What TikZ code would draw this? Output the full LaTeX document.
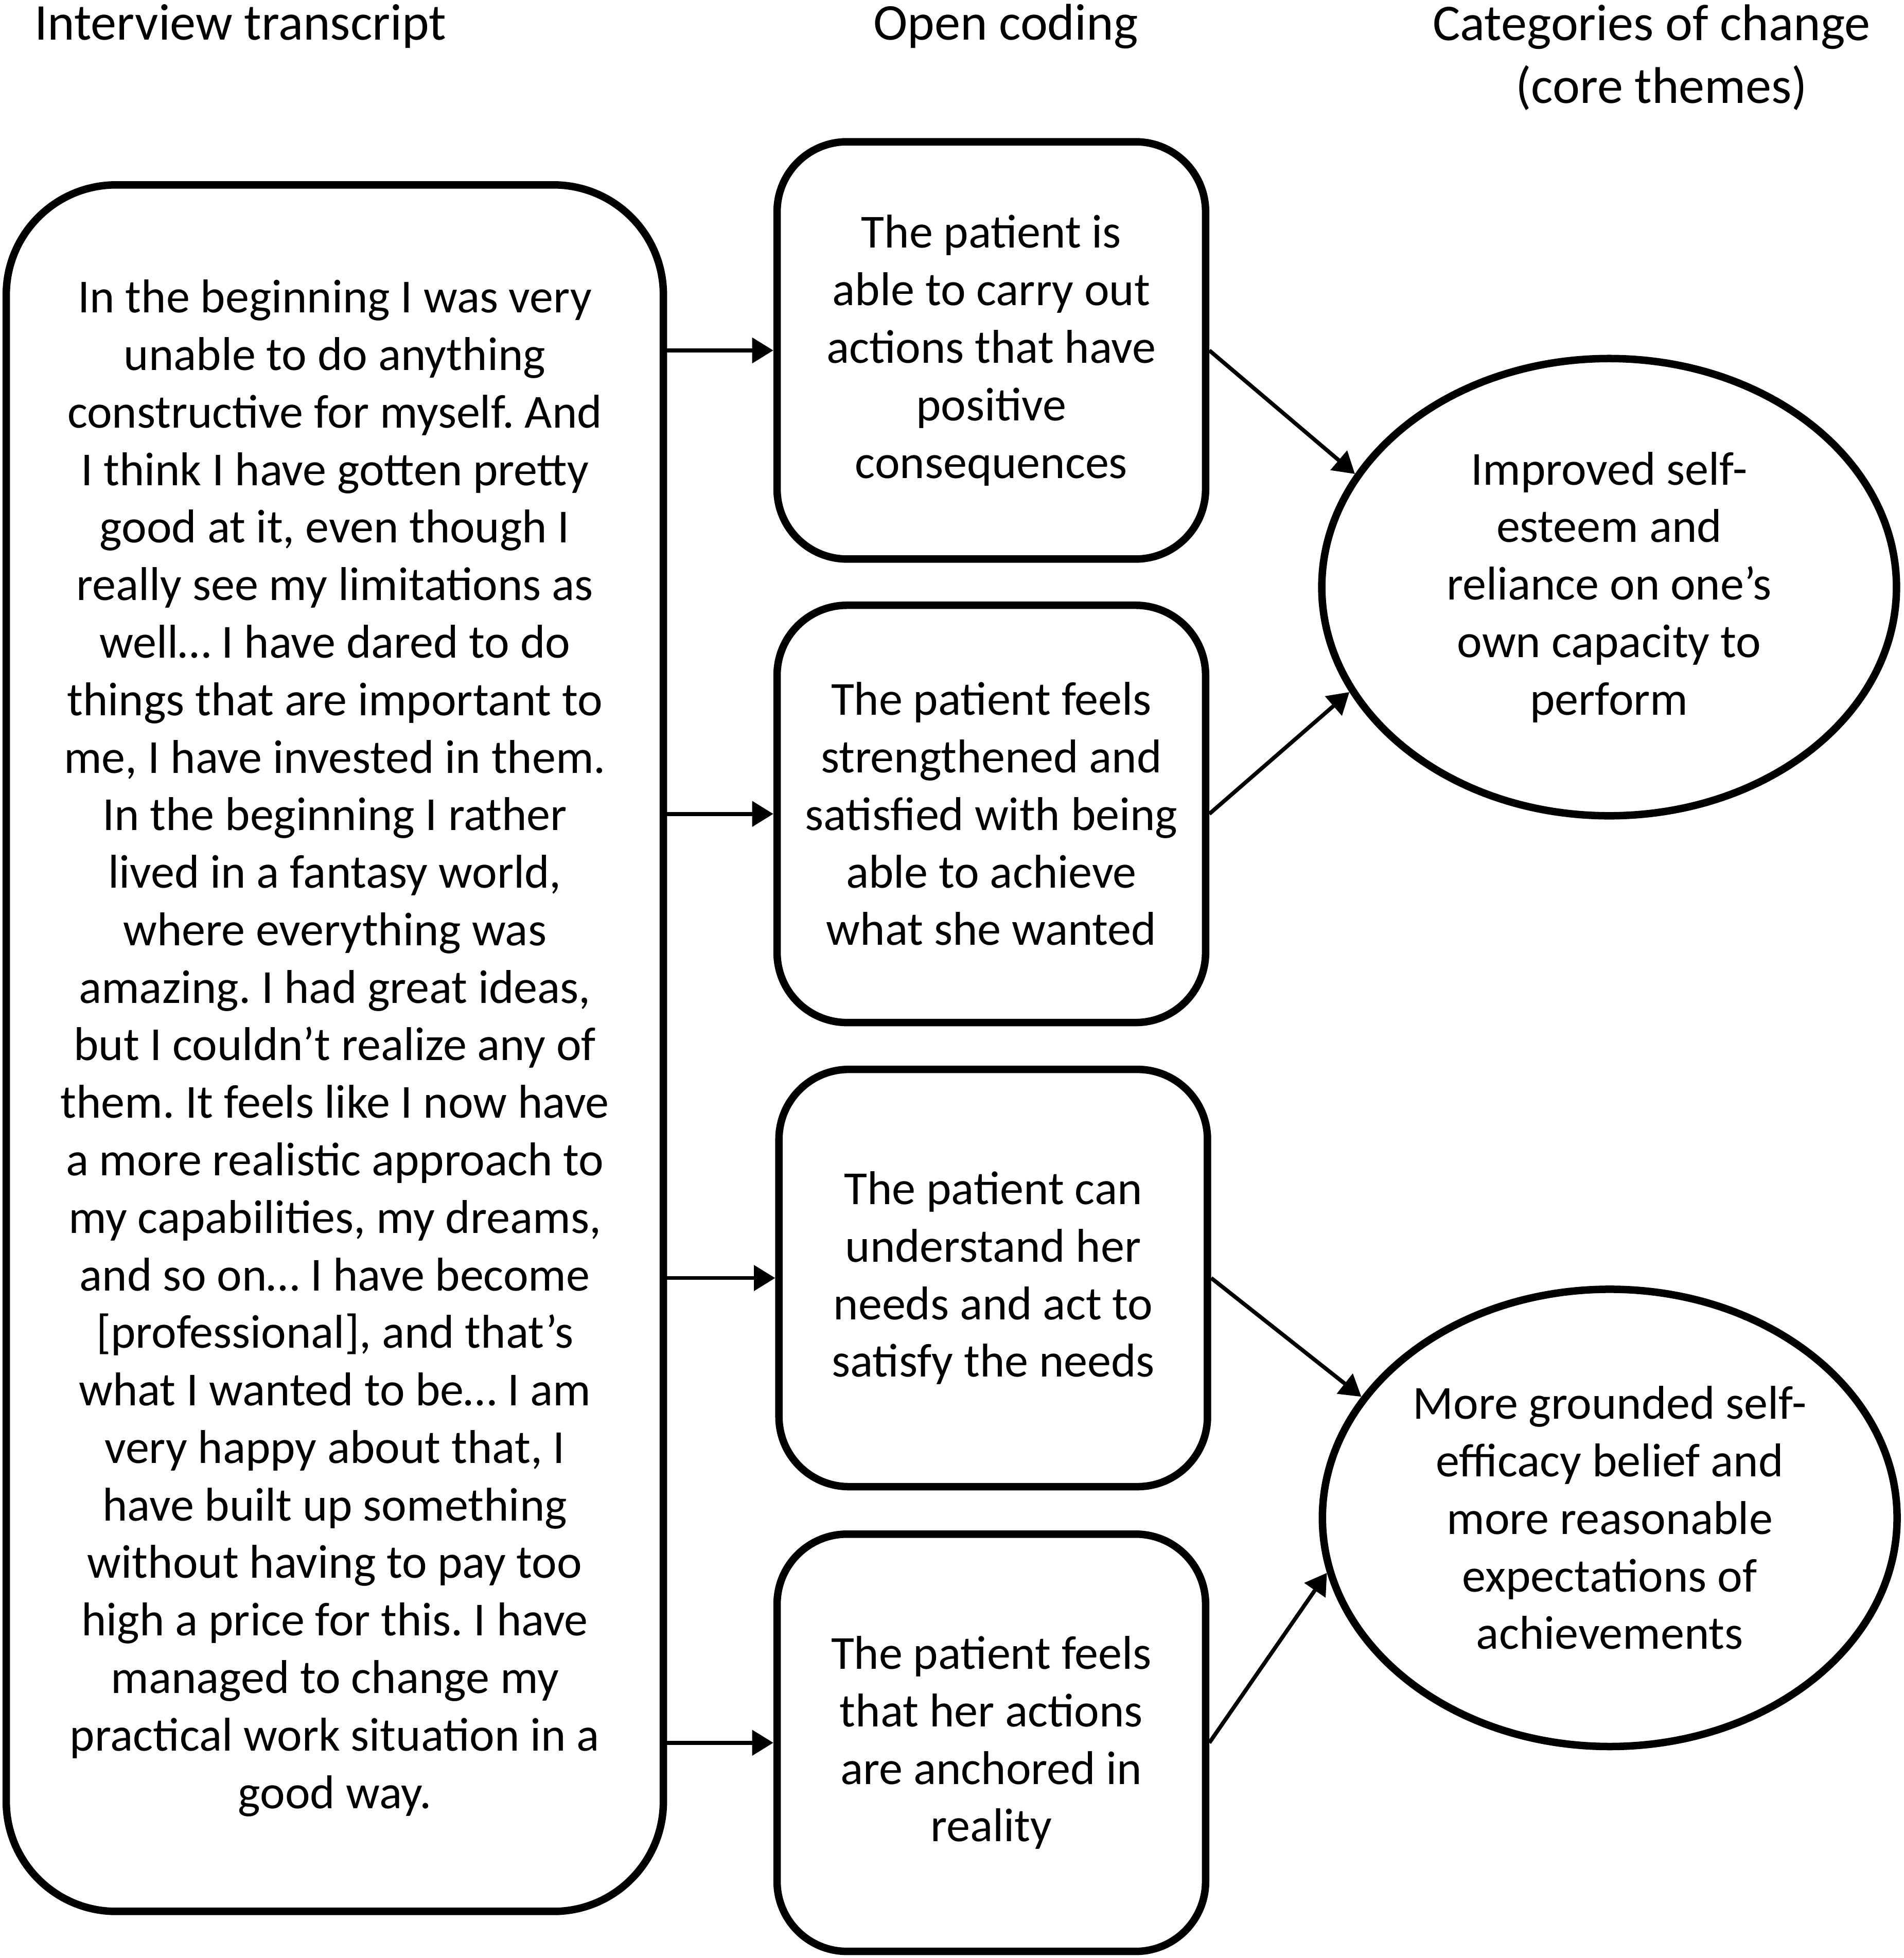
\documentclass[tikz,border=0pt]{standalone}
\usepackage{fontspec}
\setmainfont{Carlito}
\usetikzlibrary{arrows.meta,shapes.geometric}
\frenchspacing
\tikzset{
  txt/.style={font=\fontsize{10.8}{13.1}\selectfont,align=center,inner sep=0pt},
  head/.style={font=\fontsize{11.75}{14.2}\selectfont,align=center,inner sep=0pt},
  codebox/.style={txt,draw,line width=1.7pt,rounded corners=0.56cm,minimum width=3.43cm,minimum height=3.34cm},
  themebox/.style={txt,draw,line width=1.7pt,ellipse,minimum width=4.6cm,minimum height=3.66cm},
  arr/.style={line width=0.9pt,-{Triangle[length=0.17cm,width=0.2cm]}}
}
\begin{document}
\begin{tikzpicture}
    \useasboundingbox(0,0)rectangle(15.24,-15.673);
    \node[head](h1)at(1.925,-0.21){Interview transcript};
    \node[head](h2)at(8.05,-0.21){Open coding};
    \node[head](h3)at(13.22,-0.46){Categories of change\\\hspace*{0.16cm}(core themes)};
    \node[txt,draw,line width=1.7pt,rounded corners=0.88cm,minimum width=5.26cm,minimum height=13.82cm](tr)at(2.68,-8.39){In the beginning I was very\\unable to do anything\\constructive for myself. And\\I think I have gotten pretty\\good at it, even though I\\really see my limitations as\\well… I have dared to do\\things that are important to\\me, I have invested in them.\\In the beginning I rather\\lived in a fantasy world,\\where everything was\\amazing. I had great ideas,\\but I couldn’t realize any of\\them. It feels like I now have\\a more realistic approach to\\my capabilities, my dreams,\\and so on… I have become\\{[professional]}, and that’s\\what I wanted to be… I am\\very happy about that, I\\have built up something\\without having to pay too\\high a price for this. I have\\managed to change my\\practical work situation in a\\good way.};
    \node[codebox](c1)at(7.935,-2.805){The patient is\\able to carry out\\actions that have\\positive\\consequences};
    \node[codebox](c2)at(7.935,-6.515){The patient feels\\strengthened and\\satisfied with being\\able to achieve\\what she wanted};
    \node[codebox](c3)at(7.95,-10.23){The patient can\\understand her\\needs and act to\\satisfy the needs};
    \node[codebox](c4)at(7.935,-13.95){The patient feels\\that her actions\\are anchored in\\reality};
    \node[themebox](t1)at(12.88,-4.70){Improved self-\\esteem and\\reliance on one’s\\own capacity to\\perform};
    \node[themebox](t2)at(12.885,-12.15){More grounded self-\\efficacy belief and\\more reasonable\\expectations of\\achievements};
    % transcript to codes
    \foreach\c in{c1,c2,c3,c4}\draw[arr](tr.east|-\c)--(\c.west);
    % codes to themes
    \draw[arr](c1.east)--(t1.156);
    \draw[arr](c2.east)--(t1.202);
    \draw[arr](c3.east)--(t2.154);
    \draw[arr](c4.east)--(t2.191);
\end{tikzpicture}
\end{document}
